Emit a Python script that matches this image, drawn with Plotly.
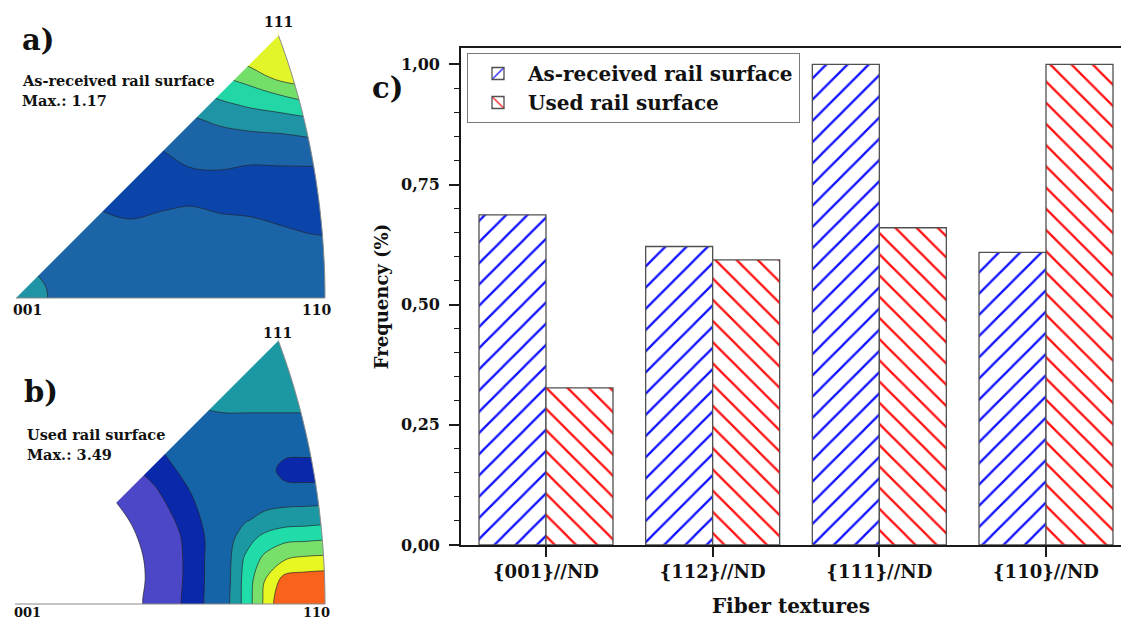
import numpy as np
import plotly.graph_objects as go

# ---------------- bar chart data (panel c) ----------------
categories = ['{001}//ND', '{112}//ND', '{111}//ND', '{110}//ND']
as_received = [0.687, 0.621, 1.000, 0.609]
used = [0.327, 0.593, 0.660, 1.000]
y_ticks = [0, 0.25, 0.5, 0.75, 1.0]

# ---------------- inverse pole figure a (as-received), level grid ----------------
ipf_a_x = [10, 40, 70, 100, 130, 160, 190, 220, 250, 280, 310, 340]
ipf_a_y = [30, 45, 60, 75, 90, 105, 120, 135, 150, 170, 190, 210, 230, 250, 270, 290, 310]
ipf_a_z = [
    [1.75, 2.25, 3.0, 3.5, 3.7, 4.1, 4.5, 5.75, 6.0, 6.0, 6.0, 6.0],
    [1.17, 1.5, 2.25, 2.75, 3.1, 3.5, 3.9, 5.0, 5.72, 6.0, 6.0, 6.0],
    [0.67, 1.0, 1.5, 2.1, 2.5, 2.94, 3.34, 4.25, 4.89, 6.0, 6.0, 6.0],
    [0.39, 0.5, 1.0, 1.5, 2.0, 2.39, 2.88, 3.5, 4.06, 4.96, 5.19, 5.21],
    [0.23, 0.35, 0.5, 1.07, 1.5, 1.86, 2.38, 2.9, 3.28, 3.81, 4.25, 4.32],
    [0.07, 0.2, 0.35, 0.64, 1.13, 1.4, 1.81, 2.29, 2.63, 2.89, 3.29, 3.42],
    [0.08, 0.05, 0.21, 0.4, 0.75, 1.09, 1.37, 1.67, 1.95, 2.12, 2.31, 2.36],
    [0.24, 0.1, 0.06, 0.25, 0.45, 0.79, 1.1, 1.26, 1.35, 1.43, 1.6, 1.68],
    [0.4, 0.25, 0.09, 0.1, 0.28, 0.48, 0.83, 0.93, 0.89, 0.93, 0.98, 1.02],
    [0.7, 0.45, 0.28, 0.1, 0.07, 0.17, 0.45, 0.5, 0.37, 0.39, 0.39, 0.39],
    [1.0, 0.8, 0.48, 0.3, 0.15, 0.15, 0.09, 0.03, 0.0, 0.07, 0.12, 0.13],
    [1.0, 1.0, 0.86, 0.5, 0.37, 0.47, 0.6, 0.43, 0.37, 0.25, 0.16, 0.13],
    [1.0, 1.0, 1.0, 0.9, 0.66, 0.86, 1.0, 0.84, 0.76, 0.58, 0.43, 0.38],
    [1.0, 1.0, 1.0, 1.0, 1.0, 1.0, 1.0, 1.0, 1.0, 0.98, 0.8, 0.72],
    [1.7, 1.4, 1.0, 1.0, 1.0, 1.0, 1.0, 1.0, 1.0, 1.0, 1.0, 1.0],
    [2.2, 1.65, 1.0, 1.0, 1.0, 1.0, 1.0, 1.0, 1.0, 1.0, 1.0, 1.0],
    [2.2, 1.65, 1.0, 1.0, 1.0, 1.0, 1.0, 1.0, 1.0, 1.0, 1.0, 1.0],
]
ipf_a_colors = ['#0c45a9', '#1c64a8', '#1f94a4', '#22d6a6', '#74df68', '#e2f52a']

# ---------------- inverse pole figure b (used), level grid ----------------
ipf_b_x = [10, 60, 100, 130, 155, 180, 205, 225, 245, 265, 285, 305, 325, 345]
ipf_b_y = [335, 365, 395, 420, 445, 470, 495, 520, 540, 560, 580, 600, 620]
ipf_b_z = [
    [1.64, 2.71, 3.24, 3.55, 3.86, 4.0, 4.0, 4.0, 4.0, 4.0, 4.0, 4.0, 4.0, 4.0],
    [1.06, 2.09, 2.89, 3.24, 3.49, 3.8, 4.0, 4.0, 4.0, 4.0, 4.0, 4.0, 4.0, 4.0],
    [0.5, 1.43, 2.32, 2.89, 3.19, 3.44, 3.74, 4.0, 4.0, 4.0, 4.0, 4.0, 4.0, 4.0],
    [0.04, 0.96, 1.75, 2.43, 2.89, 3.19, 3.3, 3.3, 3.3, 3.3, 3.3, 3.3, 3.3, 3.3],
    [-0.43, 0.5, 1.24, 1.86, 2.43, 3.0, 3.0, 3.0, 3.0, 3.0, 3.0, 3.0, 3.0, 3.0],
    [-0.5, 0.04, 0.78, 1.33, 1.82, 2.62, 3.0, 3.0, 3.0, 3.0, 2.1, 2.0, 2.0, 2.0],
    [-0.5, -0.43, 0.31, 0.87, 1.32, 2.05, 3.0, 3.0, 3.0, 3.0, 3.0, 3.0, 3.0, 3.0],
    [-0.5, -0.5, -0.05, 0.52, 1.03, 1.63, 2.67, 3.0, 3.4, 3.79, 4.03, 4.1, 4.2, 4.2],
    [-0.5, -0.5, -0.29, 0.32, 0.86, 1.44, 2.5, 3.0, 4.1, 4.92, 5.33, 5.4, 5.5, 5.5],
    [-0.5, -0.5, -0.5, 0.18, 0.76, 1.37, 2.52, 3.0, 4.65, 5.81, 6.5, 6.75, 6.8, 6.8],
    [-0.5, -0.5, -0.5, 0.13, 0.74, 1.38, 2.52, 3.0, 4.82, 6.5, 7.9, 8.0, 8.1, 8.1],
    [-0.5, -0.5, -0.5, 0.18, 0.81, 1.45, 2.55, 3.1, 4.82, 6.7, 8.5, 8.5, 8.5, 8.5],
    [-0.5, -0.5, -0.5, 0.18, 0.81, 1.45, 2.55, 3.1, 4.82, 6.7, 8.5, 8.5, 8.5, 8.5],
]
ipf_b_colors = ['#ffffff', '#4b47c6', '#0a28aa', '#1664a8', '#1c98a2',
                '#20dca8', '#78e06a', '#e6f722', '#f8621a']

W, H = 1121, 621
FONT = 'DejaVu Serif'


def discrete_scale(colors):
    n = len(colors) - 1
    return [[i / n, c] for i, c in enumerate(colors)]


def ipf_outline(ox, oy, width, n=48):
    """Standard triangle 001-110-111 in equal-area projection (pixel units)."""
    ref = 0.7653668647  # equal-area radius of the 110-type corner
    pts = []
    for s in np.linspace(1, 0, n):  # from 111 to 110 along the great circle
        v = np.array([1.0, s, 1.0])
        v = v / np.linalg.norm(v)
        k = np.sqrt(2.0 / (1.0 + v[2]))
        u, w = v[0] * k / ref, v[1] * k / ref
        pts.append((ox + u * width, oy - w * width))
    return pts


def add_ipf(fig, xs, ys, zs, colors, ox, oy, width, ytop, ybot):
    nlev = len(colors) - 1
    fig.add_trace(go.Contour(
        x=xs, y=ys, z=zs, xaxis='x2', yaxis='y2',
        autocontour=False,
        contours=dict(start=0.5, end=nlev - 0.5, size=1, coloring='fill', showlines=True),
        colorscale=discrete_scale(colors), showscale=False,
        line=dict(color='rgba(35,35,45,0.85)', width=0.8, smoothing=1.0),
        hoverinfo='skip', showlegend=False))
    arc = ipf_outline(ox, oy, width)
    tx, ty = arc[0]
    rx, ry = arc[-1]
    xr = 352
    arc_path = ' '.join(f'L{x:.2f},{y:.2f}' for x, y in arc[1:])
    shapes = [
        dict(type='path', path=f'M{ox},{oy} L{tx:.2f},{ty:.2f} L{tx:.2f},{ytop} L0,{ytop} L0,{oy} Z'),
        dict(type='path', path=f'M{tx:.2f},{ty:.2f} {arc_path} L{xr},{ry:.2f} L{xr},{ytop} L{tx:.2f},{ytop} Z'),
        dict(type='path', path=f'M0,{oy} L{xr},{oy} L{xr},{ybot} L0,{ybot} Z'),
    ]
    for s in shapes:
        s.update(xref='x2', yref='y2', fillcolor='white', line=dict(width=0), layer='above')
        fig.add_shape(**s)
    fig.add_shape(type='path', xref='x2', yref='y2', layer='above',
                  path=f'M{tx:.2f},{ty:.2f} {arc_path} L{ox},{oy}',
                  line=dict(color='#8a8a8a', width=1), fillcolor='rgba(0,0,0,0)')


fig = go.Figure()

# ---------------- panel c: bars ----------------
fig.add_trace(go.Bar(
    x=categories, y=as_received, name='As-received rail surface',
    marker=dict(color='white', line=dict(color='#505050', width=1.3),
                pattern=dict(shape='/', fgcolor='#1010ff', bgcolor='white', size=15, solidity=0.15)),
    xaxis='x', yaxis='y'))
fig.add_trace(go.Bar(
    x=categories, y=used, name='Used rail surface',
    marker=dict(color='white', line=dict(color='#505050', width=1.3),
                pattern=dict(shape='\\', fgcolor='#ff1010', bgcolor='white', size=15, solidity=0.15)),
    xaxis='x', yaxis='y'))

# ---------------- panels a and b: inverse pole figures ----------------
add_ipf(fig, ipf_a_x, ipf_a_y, ipf_a_z, ipf_a_colors, 16, 298, 309, 20, 318)
add_ipf(fig, ipf_b_x, ipf_b_y, ipf_b_z, ipf_b_colors, 15, 604, 310, 328, H)

ann = []


def txt(text, x, y, size, xanchor='center', yanchor='middle'):
    ann.append(dict(text=text, x=x, y=y, xref='x2', yref='y2',
                    showarrow=False, xanchor=xanchor, yanchor=yanchor,
                    font=dict(family=FONT, size=size, color='#111', weight=700)))


txt('a)', 20, 40, 29, xanchor='left')
txt('As-received rail surface', 20, 80, 14.5, xanchor='left')
txt('Max.: 1.17', 20, 100, 14.5, xanchor='left')
txt('111', 278, 22, 14)
txt('001', 27, 310, 14)
txt('110', 316, 310, 14)
txt('b)', 22, 392, 29, xanchor='left')
txt('Used rail surface', 25, 434, 14.5, xanchor='left')
txt('Max.: 3.49', 25, 454, 14.5, xanchor='left')
txt('111', 277, 333, 14)
txt('001', 27, 612, 13)
txt('110', 316, 612, 13)
ann.append(dict(text='c)', x=370 / W, y=1 - 88 / H, xref='paper', yref='paper', showarrow=False,
                xanchor='left', yanchor='middle',
                font=dict(family=FONT, size=29, color='#111', weight=700)))

fig.update_layout(
    template='none',
    width=W, height=H,
    margin=dict(l=0, r=0, t=0, b=0, autoexpand=False),
    paper_bgcolor='white', plot_bgcolor='white',
    separators=',.',
    barmode='group', bargap=0.196, bargroupgap=0,
    showlegend=True,
    legend=dict(x=467 / W, y=1 - 53 / H, xanchor='left', yanchor='top',
                bgcolor='white', bordercolor='#7a7a7a', borderwidth=1,
                font=dict(family=FONT, size=20, color='#111', weight=700),
                itemwidth=50, tracegroupgap=0),
    xaxis=dict(domain=[461 / W, 1.0], range=[-0.51, 3.45], type='category', automargin=False,
               showline=True, linecolor='#1a1a1a', linewidth=1.6, mirror=True,
               ticks='outside', ticklen=10, tickwidth=1.5, tickcolor='#1a1a1a',
               tickfont=dict(family=FONT, size=18, color='#111', weight=700),
               showgrid=False, zeroline=False,
               title=dict(text='Fiber textures', standoff=18,
                          font=dict(family=FONT, size=20, color='#111', weight=700))),
    yaxis=dict(domain=[(H - 545) / H, (H - 48) / H], range=[0, 1.034], automargin=False,
               tickvals=y_ticks, tickformat='.2f',
               showline=True, linecolor='#1a1a1a', linewidth=1.6,
               ticks='outside', ticklen=10, tickwidth=1.5, tickcolor='#1a1a1a',
               minor=dict(tickmode='linear', tick0=0, dtick=0.05, ticks='outside',
                          ticklen=5, tickwidth=1.2, tickcolor='#1a1a1a', showgrid=False),
               ticklabelstandoff=6,
               tickfont=dict(family=FONT, size=16, color='#111', weight=700),
               showgrid=False, zeroline=False,
               title=dict(text='Frequency (%)', standoff=8,
                          font=dict(family=FONT, size=18, color='#111', weight=700))),
    xaxis2=dict(domain=[0, 360 / W], range=[0, 360], visible=False, fixedrange=True, automargin=False),
    yaxis2=dict(domain=[0, 1], range=[H, 0], visible=False, fixedrange=True, automargin=False),
    annotations=ann,
)

fig.write_html('out.html')
